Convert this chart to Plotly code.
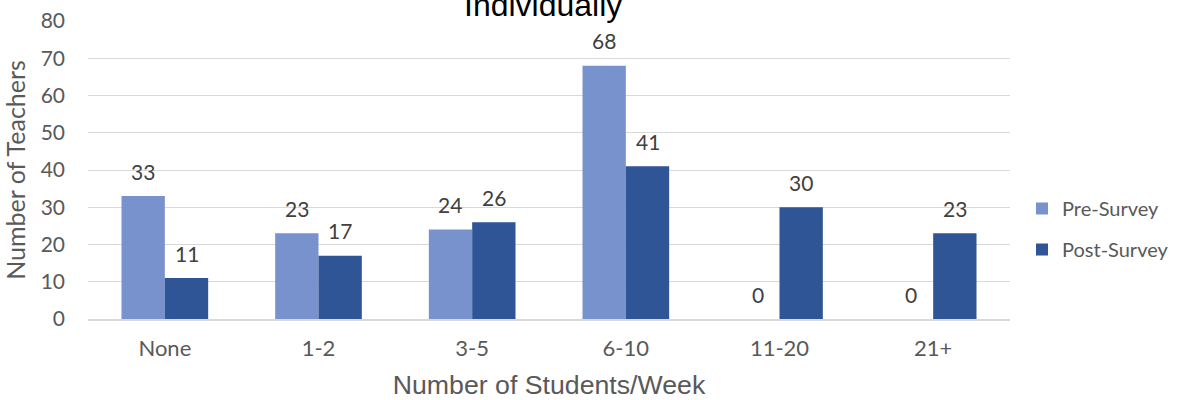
import plotly.graph_objects as go

# Weekly number of students seen individually, by teacher count
categories = ["None", "1-2", "3-5", "6-10", "11-20", "21+"]
pre_survey = [33, 23, 24, 68, 0, 0]
post_survey = [11, 17, 26, 41, 30, 23]
y_ticks = [0, 10, 20, 30, 40, 50, 60, 70, 80]

W, H = 1186, 400
M = dict(l=88, r=173, t=21, b=81)
BARGAP = 0.436

PRE_COLOR = "#7892CD"
POST_COLOR = "#2F5597"
TEXT_GREY = "#595959"
LABEL_FONT = "Lato, Noto Sans, sans-serif"
TITLE_FONT = "Liberation Sans, Arial, sans-serif"

fig = go.Figure()
fig.add_trace(go.Bar(x=categories, y=pre_survey, name="Pre-Survey",
                     marker=dict(color=PRE_COLOR, line=dict(width=0)),
                     legendgroup="pre"))
fig.add_trace(go.Bar(x=categories, y=post_survey, name="Post-Survey",
                     marker=dict(color=POST_COLOR, line=dict(width=0)),
                     legendgroup="post"))

# value labels above each bar, offset to the bar's slot in its group
plot_w = W - M["l"] - M["r"]
bar_w = plot_w / len(categories) * (1 - BARGAP) / 2
annotations = []
for series, shift in ((pre_survey, -bar_w / 2), (post_survey, bar_w / 2)):
    for cat, val in zip(categories, series):
        annotations.append(dict(
            x=cat, y=val, xref="x", yref="y", text=str(val),
            showarrow=False, xshift=shift, yshift=25,
            font=dict(family=LABEL_FONT, size=21, color="#404040"),
        ))

annotations.append(dict(
    text="Individually", xref="paper", yref="paper", x=0.494, y=1,
    xanchor="center", yanchor="bottom", yshift=-4, showarrow=False,
    font=dict(family=TITLE_FONT, size=32, color="#000000"),
))

fig.update_layout(
    width=W, height=H, margin=M,
    paper_bgcolor="white", plot_bgcolor="white",
    barmode="group", bargap=BARGAP, bargroupgap=0,
    annotations=annotations,
    legend=dict(
        x=1.013, xanchor="left", y=0.302, yanchor="middle",
        font=dict(family=LABEL_FONT, size=20, color=TEXT_GREY),
        traceorder="grouped", tracegroupgap=12,
    ),
    xaxis=dict(
        type="category", automargin=False,
        tickfont=dict(family=LABEL_FONT, size=22, color=TEXT_GREY),
        showline=True, linecolor="#D9D9D9", linewidth=1.5, ticks="",
        ticklabelstandoff=9,
        title=dict(text="Number of Students/Week", standoff=16,
                   font=dict(family=TITLE_FONT, size=26.7, color=TEXT_GREY)),
    ),
    yaxis=dict(
        range=[0, 80], tickvals=y_ticks, automargin=False,
        tickfont=dict(family=LABEL_FONT, size=21, color=TEXT_GREY),
        showgrid=True, gridcolor="#D9D9D9", gridwidth=1, zeroline=False,
        ticklabelstandoff=22,
        title=dict(text="Number of Teachers", standoff=10,
                   font=dict(family=LABEL_FONT, size=25, color=TEXT_GREY)),
    ),
)

fig.write_html("out.html")
